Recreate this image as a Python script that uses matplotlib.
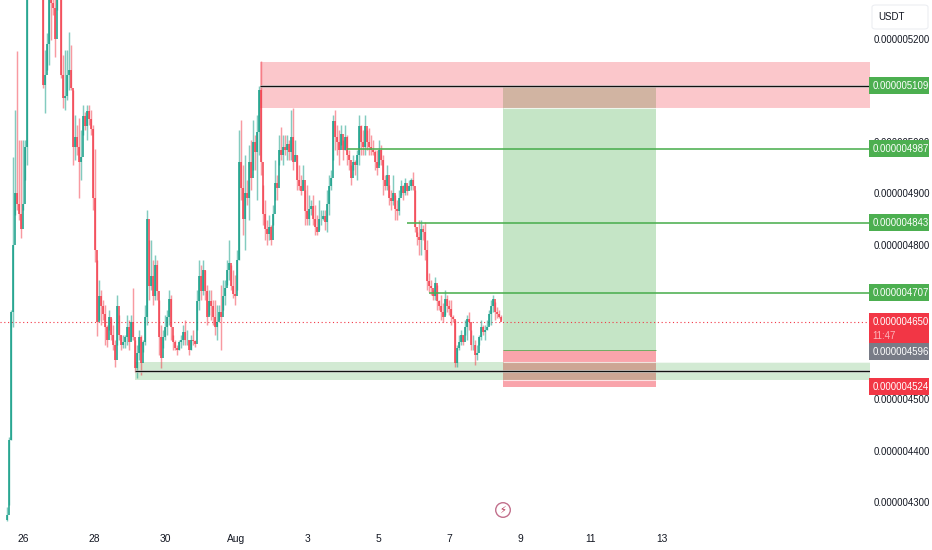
import matplotlib
matplotlib.use("Agg")
import matplotlib.pyplot as plt
from matplotlib.patches import Rectangle, FancyBboxPatch, Circle
from matplotlib.ticker import FuncFormatter

plt.rcParams['font.family'] = ['Liberation Sans', 'DejaVu Sans']

# prices are expressed in units of 1e-9 USDT
first_open = 4265
highs = [4290,4426,4673,4970,5062,5177,5004,5004,5004,5004,5330,5400,5420,5430,5440,5430,5410,5380,5350,5179,
5212,5300,5340,5330,5320,5320,5330,5320,5169,5179,5179,5214,5189,5101,5052,5033,5047,5023,5072,5058,
5072,5072,5062,5033,4986,4771,4732,4712,4693,4683,4644,4673,4658,4644,4615,4703,4664,4625,4625,4625,
4664,4654,4664,4716,4615,4605,4634,4625,4615,4683,4868,4809,4809,4771,4780,4771,4693,4644,4634,4664,
4673,4712,4703,4625,4615,4605,4615,4625,4644,4654,4634,4615,4625,4634,4615,4712,4771,4761,4771,4751,
4722,4712,4712,4693,4693,4683,4683,4722,4732,4732,4771,4809,4761,4751,4741,4790,5023,5043,4955,4975,
4926,4994,5004,5043,5014,5052,5109,5157,4916,4887,4848,4858,4838,4877,4965,4936,5014,5029,5014,5014,
5014,5004,5062,5066,5004,4975,4955,4936,4955,4907,4916,4897,4887,4897,4877,4858,4887,4868,4868,4868,
4907,4936,4945,5052,5062,5033,5023,5033,5004,5033,5014,4984,4955,4975,4965,4984,5052,5033,5023,5052,
5023,5027,5014,5004,4984,4984,5004,4994,4975,4936,4955,4916,4907,4936,4897,4887,4907,4926,4916,4930,
4916,4926,4930,4942,4907,4825,4848,4848,4838,4844,4809,4745,4732,4712,4738,4722,4693,4703,4687,4712,
4703,4693,4693,4664,4654,4605,4625,4634,4625,4654,4664,4670,4634,4625,4615,4605,4625,4654,4644,4644,
4654,4673,4693,4703,4689,4679,4673,4664]
lows = [4262,4294,4421,4640,4858,4868,4848,4813,4868,4926,4955,5310,5330,5340,5350,5340,5320,5300,5105,5056,
5140,5150,5198,5247,5165,5257,5290,5124,5066,5062,5082,5101,5101,4955,4965,4975,4891,4926,5014,5023,
5004,5033,5014,4868,4767,4623,4654,4644,4654,4605,4601,4634,4615,4596,4563,4605,4615,4596,4600,4600,
4605,4596,4615,4615,4553,4541,4576,4547,4592,4605,4644,4693,4712,4683,4693,4693,4586,4560,4600,4615,
4625,4644,4615,4596,4596,4585,4596,4600,4605,4605,4605,4586,4596,4605,4601,4634,4673,4693,4703,4693,
4644,4664,4654,4644,4625,4615,4654,4596,4673,4683,4722,4732,4712,4697,4683,4712,4771,4887,4819,4790,
4877,4848,4907,4945,4945,4887,4975,4936,4838,4809,4800,4809,4800,4838,4887,4887,4955,4965,4955,4975,
4965,4965,4965,4945,4965,4907,4907,4897,4907,4838,4838,4838,4858,4838,4819,4819,4829,4838,4848,4829,
4825,4858,4907,4965,4984,4975,4955,4994,4965,4984,4955,4945,4916,4945,4936,4926,4955,4975,4975,4975,
4984,4975,4975,4975,4945,4936,4955,4955,4897,4907,4907,4877,4868,4877,4848,4848,4858,4897,4887,4897,
4897,4907,4907,4907,4825,4800,4780,4780,4809,4771,4712,4708,4703,4693,4693,4673,4673,4654,4650,4664,
4670,4664,4644,4650,4563,4563,4596,4605,4605,4625,4615,4634,4596,4596,4567,4576,4605,4615,4625,4615,
4634,4644,4644,4670,4654,4658,4658,4654]
closes = [4275,4420,4670,4800,4900,4880,4860,4830,4880,4990,5300,5350,5390,5400,5380,5390,5350,5330,5110,5130,
5190,5280,5270,5260,5200,5300,5310,5130,5085,5090,5130,5140,5105,4990,5010,4990,4960,4970,5050,5030,
5060,5045,5025,4890,4790,4650,4700,4680,4665,4640,4615,4660,4625,4605,4575,4680,4625,4605,4610,4620,
4640,4610,4650,4620,4560,4590,4620,4570,4610,4660,4850,4720,4740,4700,4760,4710,4620,4580,4620,4640,
4660,4695,4640,4610,4600,4595,4610,4615,4630,4615,4615,4595,4615,4612,4608,4690,4740,4710,4750,4710,
4660,4690,4680,4660,4640,4650,4670,4660,4700,4715,4750,4765,4720,4705,4700,4770,4960,4910,4850,4900,
4890,4960,4930,5000,4980,5020,5100,4960,4860,4830,4820,4835,4810,4860,4920,4910,4985,4975,4990,4985,
4995,4980,5010,4960,4975,4925,4915,4905,4925,4865,4850,4870,4875,4850,4835,4825,4850,4850,4855,4845,
4880,4915,4930,5040,5010,5000,4985,5015,4985,5010,4975,4965,4930,4960,4955,4975,5030,5000,4990,5030,
5000,4990,4985,4980,4960,4950,4985,4965,4925,4915,4935,4890,4885,4900,4870,4865,4890,4915,4900,4920,
4905,4915,4925,4915,4835,4815,4810,4830,4825,4790,4730,4720,4715,4700,4725,4690,4680,4670,4660,4695,
4680,4675,4660,4655,4570,4600,4610,4625,4610,4640,4655,4650,4605,4605,4585,4590,4620,4640,4630,4635,
4640,4665,4680,4695,4670,4665,4660,4650]
first_bar_day = -0.45      # days after 26 July
bar_step_day = 0.0563

tick_days = [0, 2, 4, 6, 8, 10, 12, 14, 16, 18]
tick_labels = ['26', '28', '30', 'Aug', '3', '5', '7', '9', '11', '13']
price_ticks = [5200, 5100, 5000, 4900, 4800, 4700, 4600, 4500, 4400, 4300]

supply_low, supply_high, supply_level = 5066, 5155, 5109
demand_low, demand_high, demand_level = 4537, 4572, 4555
entry, stop, target = 4596, 4524, 5109
tp_levels = [4987, 4843, 4707]
tp_start_days = [9.13, 10.82, 11.44]
last_price = 4650
supply_start, demand_start = 6.68, 3.155
pos_start, pos_end = 13.52, 17.83

UP, DOWN = '#089981', '#f23645'
GREEN = '#4caf50'
INK = '#131722'
FS = 6.9

W, H = 932, 550
fig = plt.figure(figsize=(W / 100, H / 100), dpi=100, facecolor='white')
ax = fig.add_axes([0, (H - 522) / H, 870 / W, 522 / H])
ax.set_xlim(-0.648, 23.859)
ax.set_ylim(4261, 5275.8)
ax.set_axisbelow(True)
for s in ax.spines.values():
    s.set_visible(False)

ax.set_xticks(tick_days)
ax.set_xticklabels(tick_labels)
ax.set_yticks(price_ticks)
ax.yaxis.tick_right()
ax.yaxis.set_major_formatter(FuncFormatter(lambda v, _: f'{v * 1e-9:.9f}'))
ax.tick_params(axis='both', length=0, labelsize=FS, colors=INK)
ax.tick_params(axis='x', labelsize=7.4, pad=9)
ax.tick_params(axis='y', pad=2.5)

# zones and position tool
ax.add_patch(Rectangle((pos_start, entry), pos_end - pos_start, target - entry,
                       fc=GREEN, alpha=0.32, ec='none', zorder=1))
ax.add_patch(Rectangle((pos_start, stop), pos_end - pos_start, entry - stop,
                       fc=DOWN, alpha=0.45, ec='none', zorder=1))
ax.add_patch(Rectangle((supply_start, supply_low), 23.859 - supply_start, supply_high - supply_low,
                       fc=DOWN, alpha=0.28, ec='none', zorder=1.2))
ax.add_patch(Rectangle((demand_start, demand_low), 23.859 - demand_start, demand_high - demand_low,
                       fc=GREEN, alpha=0.25, ec='none', zorder=1.2))
ax.hlines(entry, pos_start, pos_end, color=GREEN, lw=0.7, alpha=0.8, zorder=1.5)
for lvl in (supply_low, demand_low, demand_high):
    ax.hlines(lvl, pos_start, 23.859, colors='white', lw=0.8, alpha=0.7, zorder=1.3)

# candles
days = [first_bar_day + i * bar_step_day for i in range(len(closes))]
opens = [first_open] + closes[:-1]
cols = [UP if c >= o else DOWN for o, c in zip(opens, closes)]
ax.vlines(days, lows, highs, colors=cols, lw=1.05, alpha=0.5, zorder=2)
ax.vlines(days, opens, closes, colors=cols, lw=1.1, alpha=0.95, zorder=2.1)

# levels
ax.hlines(last_price, -0.648, 23.859, colors=DOWN, lw=0.8, linestyles=(0, (1, 2.4)), zorder=1.8)
for lvl, d0 in zip(tp_levels, tp_start_days):
    ax.hlines(lvl, d0, 23.859, colors=GREEN, lw=1.15, zorder=3)
for lvl, d0 in [(supply_level, supply_start), (demand_level, demand_start)]:
    ax.hlines(lvl, d0, 23.859, colors='white', lw=2.2, alpha=0.6, zorder=3)
    ax.hlines(lvl, d0, 23.859, colors='#111111', lw=1.05, zorder=3.1)

# price-scale labels
tr = ax.get_yaxis_transform()
unit = 1.944
x0, x1 = 869 / 870, 929 / 870


def box(center, up_px, down_px, color, z=5):
    ax.add_patch(Rectangle((x0, center - down_px * unit), x1 - x0, (up_px + down_px) * unit,
                           transform=tr, fc=color, ec='none', clip_on=False, zorder=z))


def label(price, color='white', z=6, dy=0):
    ax.text(872.5 / 870, price + dy, f'{price * 1e-9:.9f}', transform=tr, color=color, fontsize=FS,
            va='center', ha='left', clip_on=False, zorder=z)


for lvl in [supply_level] + tp_levels:
    box(lvl, 8.5, 8.5, GREEN)
    label(lvl)
box(stop, 8.5, 8.5, DOWN)
label(stop)
box(entry, 6.5, 10.5, '#787b86')
label(entry, dy=-4)
box(last_price, 8.5, 21.5, DOWN)
label(last_price, dy=0)
ax.text(872.5 / 870, last_price - 27, '11:47', transform=tr, color='#fbb6bc', fontsize=FS,
        va='center', ha='left', clip_on=False, zorder=6)

# currency chip
fig.add_artist(FancyBboxPatch((872 / W, (H - 29) / H), 56 / W, 24 / H, boxstyle='round,pad=0,rounding_size=0.004',
                              transform=fig.transFigure, fc='white', ec='#eceef2', lw=0.8))
fig.text(878 / W, (H - 17) / H, 'USDT', color=INK, fontsize=7, va='center', ha='left')

# bolt marker
fig.add_artist(Circle((503, H - 510), 7.3, transform=None, fc='white', ec='#c2708c', lw=1.0))
fig.text(503 / W, (H - 510) / H, '\u26a1', color='#b2304f', fontsize=7, ha='center', va='center',
         family='DejaVu Sans')

fig.savefig('out.png', dpi=100, facecolor='white')
